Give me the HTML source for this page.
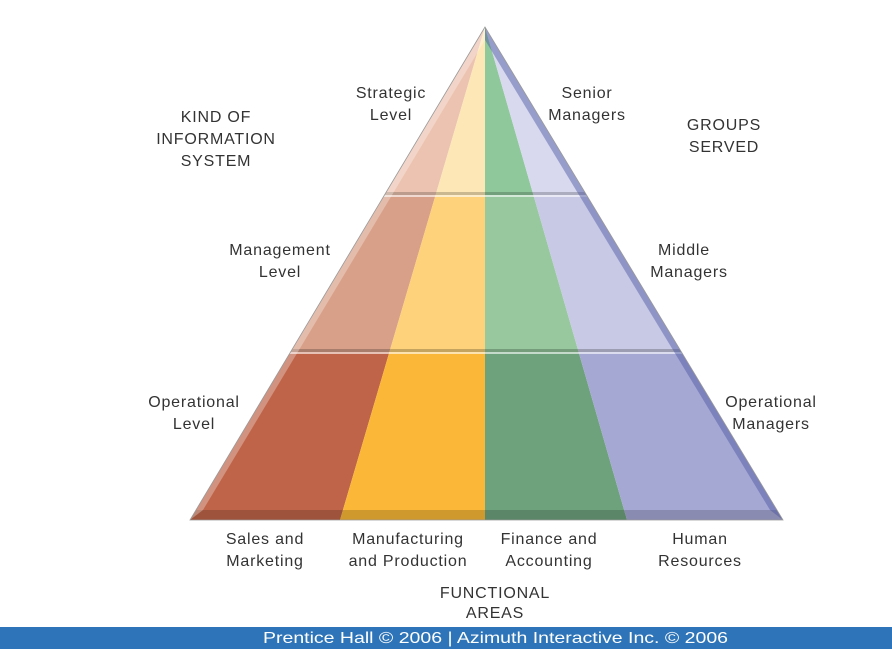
<!DOCTYPE html>
<html><head><meta charset="utf-8"><style>
body{margin:0;width:892px;height:649px;background:#fff;overflow:hidden;font-family:"Liberation Sans","DejaVu Sans",sans-serif}
svg{position:absolute;left:0;top:0}
</style></head><body>
<svg width="892" height="649" viewBox="0 0 892 649">
<defs>
<clipPath id="tri"><polygon points="485,27 190,520 783,520"/></clipPath>
<clipPath id="b1"><rect x="0" y="0" width="892" height="195"/></clipPath>
<clipPath id="b2"><rect x="0" y="195" width="892" height="157"/></clipPath>
<clipPath id="b3"><rect x="0" y="352" width="892" height="168"/></clipPath>
</defs>
<g clip-path="url(#tri)">
 <g clip-path="url(#b1)">
  <polygon points="485,27 190,520 340,520" fill="#ecc3b0"/>
  <polygon points="485,27 340,520 485,520" fill="#fde7b6"/>
  <polygon points="485,27 485,520 627,520" fill="#8fc89b"/>
  <polygon points="485,27 627,520 783,520" fill="#d8d9ee"/>
 </g>
 <g clip-path="url(#b2)">
  <polygon points="485,27 190,520 340,520" fill="#d9a089"/>
  <polygon points="485,27 340,520 485,520" fill="#fdd27a"/>
  <polygon points="485,27 485,520 627,520" fill="#97c89e"/>
  <polygon points="485,27 627,520 783,520" fill="#c8c9e5"/>
 </g>
 <g clip-path="url(#b3)">
  <polygon points="485,27 190,520 340,520" fill="#bf6449"/>
  <polygon points="485,27 340,520 485,520" fill="#fbb838"/>
  <polygon points="485,27 485,520 627,520" fill="#6ea27c"/>
  <polygon points="485,27 627,520 783,520" fill="#a6a8d4"/>
 </g>
 <rect x="0" y="192" width="892" height="3" fill="#000" opacity="0.2"/>
 <rect x="0" y="195" width="892" height="2" fill="#fff" opacity="0.6"/>
 <rect x="0" y="349" width="892" height="3" fill="#000" opacity="0.22"/>
 <rect x="0" y="352" width="892" height="2" fill="#fff" opacity="0.6"/>
 <rect x="0" y="510" width="892" height="10" fill="#000" opacity="0.17"/>
 <polygon points="485,27 190,520 203,510 485,40" fill="#fff" opacity="0.3"/>
 <polygon points="485,27 783,520 770,510 485,40" fill="#4a55a0" opacity="0.45"/>
</g>
<polygon points="485,27 190,520 783,520" fill="none" stroke="#999" stroke-width="0.8"/>
<g font-size="16" fill="#333" text-anchor="middle" letter-spacing="0.8">
 <text x="216" y="122">KIND OF</text>
 <text x="216" y="144">INFORMATION</text>
 <text x="216" y="166">SYSTEM</text>
 <text x="391" y="98">Strategic</text>
 <text x="391" y="120">Level</text>
 <text x="587" y="98">Senior</text>
 <text x="587" y="120">Managers</text>
 <text x="724" y="130">GROUPS</text>
 <text x="724" y="152">SERVED</text>
 <text x="280" y="255">Management</text>
 <text x="280" y="277">Level</text>
 <text x="684" y="255">Middle</text>
 <text x="689" y="277">Managers</text>
 <text x="194" y="407">Operational</text>
 <text x="194" y="429">Level</text>
 <text x="771" y="407">Operational</text>
 <text x="771" y="429">Managers</text>
 <text x="265" y="544">Sales and</text>
 <text x="265" y="566">Marketing</text>
 <text x="408" y="544">Manufacturing</text>
 <text x="408" y="566">and Production</text>
 <text x="549" y="544">Finance and</text>
 <text x="549" y="566">Accounting</text>
 <text x="700" y="544">Human</text>
 <text x="700" y="566">Resources</text>
 <text x="495" y="598">FUNCTIONAL</text>
 <text x="495" y="618">AREAS</text>
</g>
<rect x="0" y="627" width="892" height="22" fill="#2e74b8"/>
<text x="263" y="643" font-size="16" fill="#fff" textLength="465" lengthAdjust="spacingAndGlyphs">Prentice Hall © 2006 | Azimuth Interactive Inc. © 2006</text>
</svg>
</body></html>
